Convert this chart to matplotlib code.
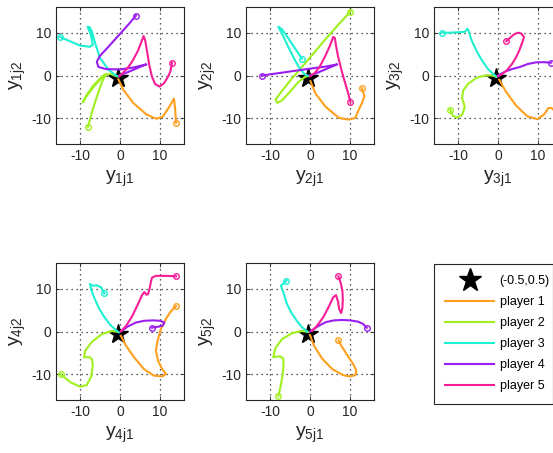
import matplotlib
matplotlib.use('Agg')
import matplotlib.pyplot as plt
from matplotlib.lines import Line2D

plt.rcParams['font.family'] = ['Liberation Sans', 'DejaVu Sans']
plt.rcParams['mathtext.fontset'] = 'custom'
plt.rcParams['mathtext.rm'] = 'Liberation Sans'
plt.rcParams['mathtext.it'] = 'Liberation Sans'
plt.rcParams['axes.unicode_minus'] = False

# ---------------- data ----------------
star_x = -0.5
star_y = -0.7
star_label = '(-0.5,0.5)'
player_names = ['player 1', 'player 2', 'player 3', 'player 4', 'player 5']
player_colors = ['#FF9F1E', '#9FF01E', '#1EF0D2', '#9B1EF0', '#F51E96']
ticks = [-10, 0, 10]

# subplot 1
s1_p1_x = [14.0, 13.8, 13.5, 12.4, 10.7, 9.1, 6.6, 3.3, 0.8, -0.4]
s1_p1_y = [-11.0, -8.0, -5.4, -7.2, -9.6, -10.1, -9.1, -6.4, -3.3, -0.9]
s1_p2_x = [-8.0, -7.0, -5.8, -4.5, -3.5, -4.8, -6.8, -8.5, -9.3, -8.2, -6.3, -4.2, -2.5, -0.8]
s1_p2_y = [-12.0, -8.5, -5.0, -1.5, 0.4, -0.5, -2.5, -4.8, -6.3, -4.6, -2.3, -0.2, 0.4, -0.2]
s1_p3_x = [-15.0, -12.5, -10.0, -7.5, -6.8, -7.3, -8.1, -7.6, -7.0, -6.2, -5.0, -2.9, -1.2, -0.5]
s1_p3_y = [9.0, 8.0, 7.0, 6.7, 7.2, 9.5, 11.4, 11.3, 10.2, 7.5, 4.1, 1.4, 0.1, -0.2]
s1_p4_x = [4.0, 2.0, -0.5, -3.0, -5.0, -5.8, -5.4, -3.5, 0.0, 3.5, 6.6, 4.5, 2.0, 0.0]
s1_p4_y = [14.0, 11.8, 9.2, 6.6, 4.6, 3.2, 2.0, 1.5, 1.4, 1.9, 2.6, 1.8, 0.8, 0.1]
s1_p5_x = [13.0, 12.6, 12.0, 11.0, 9.9, 8.8, 8.0, 7.3, 6.8, 6.3, 5.9, 5.4, 4.5, 3.2, 1.8, 0.5, -0.2]
s1_p5_y = [3.0, 1.0, -0.3, -1.8, -2.6, -2.0, -0.3, 2.5, 5.5, 8.2, 9.2, 8.0, 5.8, 3.5, 1.6, 0.4, -0.2]

# subplot 2
s2_p1_x = [13.0, 13.6, 13.0, 12.2, 11.3, 9.7, 7.2, 3.8, 1.3, 0.1]
s2_p1_y = [-3.0, -4.8, -6.4, -8.0, -9.9, -10.3, -9.9, -7.2, -4.1, -1.3]
s2_p2_x = [10.1, 7.0, 4.0, 1.0, -2.0, -4.8, -7.0, -8.6, -8.2, -7.0, -5.0, -3.0, -1.2, -0.3]
s2_p2_y = [14.9, 11.8, 8.6, 5.3, 2.0, -1.0, -3.6, -5.6, -6.4, -5.8, -3.8, -1.6, -0.3, -0.1]
s2_p3_x = [-2.0, -3.5, -5.5, -7.0, -7.9, -7.6, -6.8, -5.5, -4.0, -2.5, -1.2, -0.3]
s2_p3_y = [3.9, 6.0, 8.8, 10.8, 11.4, 10.8, 9.4, 6.8, 4.0, 1.5, 0.2, -0.1]
s2_p4_x = [-12.0, -6.0, 0.0, 4.0, 6.8, 4.5, 2.0, 0.0]
s2_p4_y = [0.0, 0.8, 1.6, 2.1, 2.6, 1.7, 0.7, 0.0]
s2_p5_x = [10.1, 9.5, 8.7, 7.8, 7.0, 6.5, 6.2, 5.8, 5.0, 3.8, 2.4, 1.2, 0.0]
s2_p5_y = [-6.2, -4.0, -1.5, 1.5, 4.5, 7.0, 8.8, 9.0, 7.0, 4.5, 2.0, 0.6, -0.2]

# subplot 3
s3_p1_x = [15.0, 14.2, 13.4, 12.6, 12.2, 11.4, 9.8, 7.3, 4.5, 2.0, 0.3]
s3_p1_y = [-10.0, -8.3, -7.6, -7.6, -8.2, -9.2, -10.2, -9.5, -7.0, -3.8, -1.0]
s3_p2_x = [-12.0, -11.3, -10.2, -9.0, -8.3, -8.6, -9.0, -8.7, -7.5, -5.5, -3.3, -1.5, -0.5]
s3_p2_y = [-8.0, -9.4, -9.8, -9.2, -7.4, -6.3, -5.3, -3.5, -2.0, -0.6, 0.0, 0.0, -0.3]
s3_p3_x = [-14.0, -12.0, -10.0, -8.3, -7.6, -7.2, -6.6, -5.5, -4.2, -2.5, -1.0, -0.3]
s3_p3_y = [10.0, 10.0, 10.1, 10.2, 10.9, 10.0, 8.2, 6.0, 3.8, 1.5, 0.2, -0.3]
s3_p4_x = [13.3, 11.5, 9.7, 7.5, 5.5, 3.5, 2.0, 0.8, 0.0]
s3_p4_y = [3.0, 3.1, 3.1, 2.7, 2.0, 1.5, 1.0, 0.4, 0.0]
s3_p5_x = [2.1, 3.0, 4.0, 5.0, 5.8, 6.5, 6.1, 5.3, 4.5, 3.5, 2.3, 1.0, 0.0]
s3_p5_y = [8.0, 8.8, 9.6, 10.0, 9.8, 9.0, 7.8, 5.8, 4.2, 2.7, 1.3, 0.3, -0.2]

# subplot 4
s4_p1_x = [14.0, 12.8, 11.5, 10.2, 9.3, 9.0, 9.5, 10.5, 11.5, 10.6, 8.5, 6.0, 3.5, 1.5, 0.2]
s4_p1_y = [5.9, 4.8, 3.0, 0.5, -2.5, -4.5, -6.8, -8.7, -9.9, -10.5, -10.3, -8.8, -6.0, -3.3, -1.0]
s4_p2_x = [-14.8, -12.5, -10.0, -8.3, -7.2, -6.8, -7.0, -7.6, -9.0, -8.7, -7.0, -4.5, -2.0, -0.5]
s4_p2_y = [-10.0, -11.8, -12.9, -12.5, -10.5, -8.0, -6.5, -6.0, -6.0, -4.5, -2.4, -0.6, 0.1, -0.1]
s4_p3_x = [-3.9, -4.7, -5.8, -6.8, -7.5, -7.2, -6.4, -5.3, -4.0, -2.5, -1.0, -0.3]
s4_p3_y = [8.9, 10.3, 10.8, 10.7, 11.1, 9.8, 7.8, 5.5, 3.5, 1.6, 0.3, -0.2]
s4_p4_x = [8.0, 9.5, 10.7, 11.1, 10.0, 8.2, 6.0, 4.0, 2.0, 0.5]
s4_p4_y = [0.9, 1.1, 1.4, 2.1, 2.5, 2.6, 2.5, 2.1, 1.2, 0.2]
s4_p5_x = [14.0, 11.5, 9.0, 8.0, 7.7, 7.4, 7.0, 6.6, 6.1, 5.5, 4.5, 3.0, 1.5, 0.2]
s4_p5_y = [12.9, 13.0, 13.0, 12.6, 11.5, 10.0, 8.7, 8.6, 9.2, 8.5, 6.4, 3.5, 1.3, 0.0]

# subplot 5
s5_p1_x = [7.1, 7.8, 8.7, 9.7, 10.8, 11.6, 11.3, 10.0, 8.3, 5.6, 3.0, 1.0, 0.0]
s5_p1_y = [-2.1, -3.3, -4.6, -6.1, -7.6, -9.2, -10.2, -10.5, -10.2, -8.8, -6.3, -3.3, -0.8]
s5_p2_x = [-7.9, -7.4, -6.9, -6.6, -6.7, -7.5, -8.6, -9.2, -8.6, -7.0, -4.5, -2.0, -0.5]
s5_p2_y = [-15.1, -13.0, -10.5, -8.0, -6.3, -5.8, -5.9, -6.0, -3.8, -1.8, -0.4, 0.1, -0.1]
s5_p3_x = [-5.9, -6.6, -7.3, -7.0, -6.6, -5.8, -4.6, -3.3, -2.0, -0.7]
s5_p3_y = [11.9, 11.2, 10.7, 10.0, 9.0, 6.5, 4.3, 2.5, 1.0, 0.0]
s5_p4_x = [14.2, 13.2, 12.0, 10.0, 8.0, 6.0, 4.0, 2.3, 1.0, 0.0]
s5_p4_y = [0.9, 1.8, 2.3, 2.6, 2.7, 2.6, 2.2, 1.4, 0.6, 0.0]
s5_p5_x = [7.1, 7.7, 8.1, 8.2, 8.1, 7.8, 7.3, 7.0, 6.5, 5.8, 4.7, 3.3, 1.8, 0.5]
s5_p5_y = [12.9, 11.3, 9.5, 7.5, 5.5, 4.3, 5.2, 7.0, 8.5, 8.0, 5.8, 3.3, 1.4, 0.1]

subplots = [
    [(s1_p1_x, s1_p1_y), (s1_p2_x, s1_p2_y), (s1_p3_x, s1_p3_y), (s1_p4_x, s1_p4_y), (s1_p5_x, s1_p5_y)],
    [(s2_p1_x, s2_p1_y), (s2_p2_x, s2_p2_y), (s2_p3_x, s2_p3_y), (s2_p4_x, s2_p4_y), (s2_p5_x, s2_p5_y)],
    [(s3_p1_x, s3_p1_y), (s3_p2_x, s3_p2_y), (s3_p3_x, s3_p3_y), (s3_p4_x, s3_p4_y), (s3_p5_x, s3_p5_y)],
    [(s4_p1_x, s4_p1_y), (s4_p2_x, s4_p2_y), (s4_p3_x, s4_p3_y), (s4_p4_x, s4_p4_y), (s4_p5_x, s4_p5_y)],
    [(s5_p1_x, s5_p1_y), (s5_p2_x, s5_p2_y), (s5_p3_x, s5_p3_y), (s5_p4_x, s5_p4_y), (s5_p5_x, s5_p5_y)],
]

# ---------------- layout ----------------
W, H = 553, 453
fig = plt.figure(figsize=(W / 100, H / 100), dpi=100)
axw, axh = 128, 137
lefts = [56, 246, 434]
tops = [7, 263]
positions = [(lefts[0], tops[0]), (lefts[1], tops[0]), (lefts[2], tops[0]),
             (lefts[0], tops[1]), (lefts[1], tops[1])]
edge = '#262626'

for k, (lx, ty) in enumerate(positions):
    ax = fig.add_axes([lx / W, (H - ty - axh) / H, axw / W, axh / H])
    ax.plot([star_x], [star_y], marker='*', color='k', markersize=15, linestyle='none', zorder=2)
    for (xs, ys), col in zip(subplots[k], player_colors):
        ax.plot(xs, ys, color=col, lw=1.5, zorder=3)
        ax.plot(xs[0], ys[0], marker='o', mfc='none', mec=col, ms=4, mew=1, zorder=4)
    ax.set_xlim(-16, 16)
    ax.set_ylim(-16, 16)
    ax.set_xticks(ticks)
    ax.set_yticks(ticks)
    ax.grid(True, linestyle=(0, (1, 3)), color='#222222', linewidth=0.9)
    ax.tick_params(direction='in', length=3, width=0.6, colors=edge, labelsize=10,
                   top=True, right=True, labelcolor='#262626')
    for sp in ax.spines.values():
        sp.set_color(edge)
        sp.set_linewidth(0.8)
    n = k + 1
    ax.set_xlabel(r'$\mathrm{y_{%dj1}}$' % n, fontsize=14, color='#262626', labelpad=4)
    ax.set_ylabel(r'$\mathrm{y_{%dj2}}$' % n, fontsize=14, color='#262626', labelpad=2)

handles = [Line2D([], [], marker='*', color='k', markersize=17, linestyle='none')]
for col in player_colors:
    handles.append(Line2D([], [], color=col, lw=1.5))
labels = [star_label] + player_names
leg = fig.legend(handles, labels, loc='upper left',
                 bbox_to_anchor=(434 / W, (H - 264) / H, 119 / W, 0.0), mode='expand',
                 fontsize=9, frameon=True, fancybox=False, framealpha=1,
                 edgecolor=edge, borderpad=0.9, labelspacing=0.72,
                 handlelength=3.9, handletextpad=0.45, borderaxespad=0)
leg.get_frame().set_linewidth(0.8)

fig.savefig('out.png', dpi=100)
